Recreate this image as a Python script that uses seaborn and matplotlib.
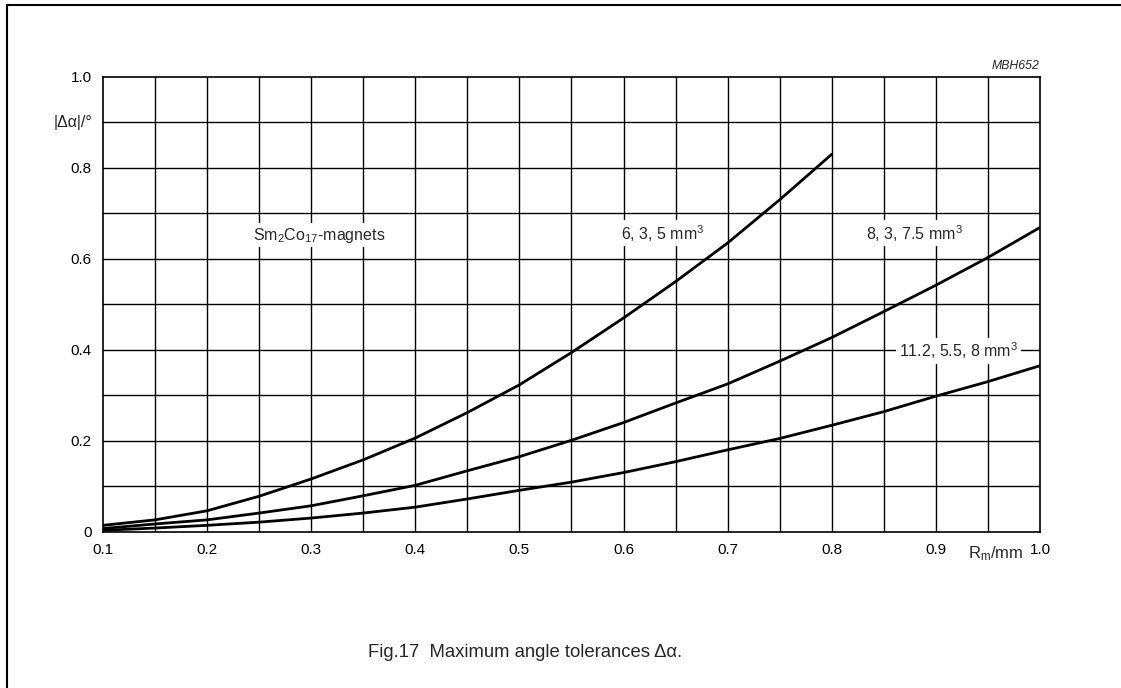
import matplotlib
matplotlib.use("Agg")
import matplotlib.pyplot as plt
from matplotlib.lines import Line2D
import seaborn as sns
import pandas as pd

# values (R_m in mm, |delta alpha| in degrees)
r_small = [0.10, 0.15, 0.20, 0.25, 0.30, 0.35, 0.40, 0.45, 0.50, 0.55, 0.60, 0.65, 0.70, 0.75, 0.80]
da_small = [0.014, 0.026, 0.046, 0.078, 0.116, 0.158, 0.206, 0.262, 0.323, 0.394, 0.470, 0.550, 0.635, 0.730, 0.830]

r_full = [0.10, 0.15, 0.20, 0.25, 0.30, 0.35, 0.40, 0.45, 0.50, 0.55, 0.60, 0.65, 0.70,
          0.75, 0.80, 0.85, 0.90, 0.95, 1.00]
da_mid = [0.007, 0.017, 0.026, 0.041, 0.057, 0.079, 0.102, 0.134, 0.165, 0.201, 0.240, 0.283, 0.325,
          0.375, 0.427, 0.484, 0.542, 0.603, 0.669]
da_large = [0.003, 0.008, 0.014, 0.021, 0.030, 0.041, 0.054, 0.072, 0.091, 0.109, 0.130, 0.154, 0.180,
            0.205, 0.234, 0.264, 0.298, 0.330, 0.365]

curve_names = ["6, 3, 5 mm$^3$", "8, 3, 7.5 mm$^3$", "11.2, 5.5, 8 mm$^3$"]
x_ticks = [0.1, 0.2, 0.3, 0.4, 0.5, 0.6, 0.7, 0.8, 0.9, 1.0]
y_ticks = [0, 0.2, 0.4, 0.6, 0.8, 1.0]
y_tick_labels = ["0", "0.2", "0.4", "0.6", "0.8", "1.0"]

df = pd.concat([
    pd.DataFrame({"r": r_small, "da": da_small, "magnet": curve_names[0]}),
    pd.DataFrame({"r": r_full, "da": da_mid, "magnet": curve_names[1]}),
    pd.DataFrame({"r": r_full, "da": da_large, "magnet": curve_names[2]}),
])

sns.set_style("white")
plt.rcParams["font.family"] = ["Liberation Sans", "DejaVu Sans"]
plt.rcParams["mathtext.fontset"] = "custom"
plt.rcParams["mathtext.rm"] = "Liberation Sans"
plt.rcParams["mathtext.it"] = "Liberation Sans:italic"

fig = plt.figure(figsize=(11.21, 6.88), dpi=100)
ax = fig.add_axes([0.0919, 0.2272, 0.8358, 0.6609])

# grid: 0.05 steps in x, 0.1 steps in y
for gx in [0.1 + 0.05 * i for i in range(1, 18)]:
    ax.axvline(gx, color="black", lw=1.0, zorder=1)
for gy in [0.1 * i for i in range(1, 10)]:
    ax.axhline(gy, color="black", lw=1.0, zorder=1)

sns.lineplot(data=df, x="r", y="da", hue="magnet", palette=["black"] * 3,
             linewidth=2.0, legend=False, ax=ax, zorder=3, sort=False)

ax.set_xlim(0.1, 1.0)
ax.set_ylim(0, 1.0)
ax.set_xticks(x_ticks)
ax.set_xticklabels([f"{t:.1f}" for t in x_ticks])
ax.set_yticks(y_ticks)
ax.set_yticklabels(y_tick_labels)
ax.tick_params(axis="both", length=0, labelsize=11, colors="black")
ax.tick_params(axis="x", pad=8)
ax.tick_params(axis="y", pad=8)
ax.set_xlabel("")
ax.set_ylabel("")
for s in ax.spines.values():
    s.set_color("black")
    s.set_linewidth(1.2)

box = dict(facecolor="white", edgecolor="none", pad=2)
ax.text(0.3075, 0.652, "Sm$_2$Co$_{17}$-magnets", ha="center", va="center",
        fontsize=11.5, bbox=box, zorder=4)
ax.text(0.638, 0.656, curve_names[0], ha="center", va="center", fontsize=11.5, bbox=box, zorder=4)
ax.text(0.879, 0.656, curve_names[1], ha="center", va="center", fontsize=11.5, bbox=box, zorder=4)
ax.text(0.922, 0.398, curve_names[2], ha="center", va="center", fontsize=11.5, bbox=box, zorder=4)

ax.text(-0.011, 0.9, "|Δα|/°", transform=ax.get_yaxis_transform(),
        ha="right", va="center", fontsize=11.5)
ax.text(1.0, 1.012, "MBH652", transform=ax.transAxes, ha="right", va="bottom",
        fontsize=8.8, style="italic")
ax.text(0.953, -0.028, "R$_{\\rm m}$/mm", transform=ax.transAxes, ha="center", va="top",
        fontsize=12)

fig.text(0.468, 0.052, "Fig.17  Maximum angle tolerances Δα.", ha="center",
         va="center", fontsize=13.3)

# page frame (left and top edges visible)
fig.add_artist(Line2D([0.0062, 0.0062], [0.0, 0.9927], color="black", lw=1.5,
                      transform=fig.transFigure))
fig.add_artist(Line2D([0.0062, 1.0], [0.9927, 0.9927], color="black", lw=1.5,
                      transform=fig.transFigure))

fig.savefig("out.png", dpi=100)
